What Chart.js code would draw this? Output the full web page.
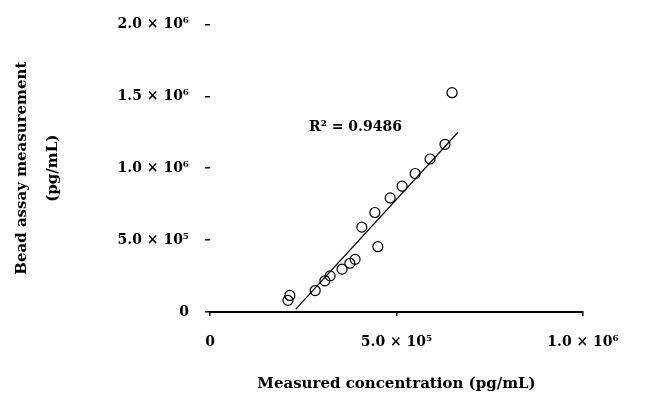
<!DOCTYPE html>
<html>
<head>
<meta charset="utf-8">
<script src="https://cdn.jsdelivr.net/npm/chart.js@4/dist/chart.umd.min.js"></script>
<style>
  html, body { margin: 0; padding: 0; background: #fff; }
  #wrap { width: 650px; height: 405px; }
</style>
</head>
<body>
<div id="wrap"><canvas id="c" width="650" height="405"></canvas></div>
<script>
// Measured pairs (x: reference method, y: bead assay), pg/mL
const measuredX = [209000, 214000, 282000, 308000, 322000, 354000, 375000, 389000, 450000,
                   407000, 442000, 483000, 515000, 550000, 590000, 630000, 649000];
const measuredY = [81000, 115000, 149000, 217000, 251000, 298000, 339000, 366000, 454000,
                   590000, 692000, 793000, 875000, 963000, 1064000, 1166000, 1525000];
// Regression line end points
const fitX = [230000, 665000];
const fitY = [20000, 1250000];
const rSquaredText = 'R\u00B2 = 0.9486';
const xTicks = [0, 500000, 1000000];
const yTicks = [0, 500000, 1000000, 1500000, 2000000];
const tickLabels = {
  0: '0',
  500000: '5.0 \u00D7 10\u2075',
  1000000: '1.0 \u00D7 10\u2076',
  1500000: '1.5 \u00D7 10\u2076',
  2000000: '2.0 \u00D7 10\u2076'
};
const xTitle = 'Measured concentration (pg/mL)';
const yTitle = ['Bead assay measurement', '(pg/mL)'];

const FONT = "'DejaVu Serif', 'Liberation Serif', serif";

const annotate = {
  id: 'annotate',
  afterDatasetsDraw(chart) {
    const { ctx, scales } = chart;
    ctx.save();
    ctx.font = `bold 14px ${FONT}`;
    ctx.fillStyle = '#000';
    ctx.textAlign = 'center';
    ctx.textBaseline = 'middle';
    ctx.fillText(rSquaredText, scales.x.getPixelForValue(390000), scales.y.getPixelForValue(1285000));
    ctx.restore();
  }
};

new Chart(document.getElementById('c'), {
  type: 'scatter',
  data: {
    datasets: [
      {
        label: 'Samples',
        data: measuredX.map((x, i) => ({ x, y: measuredY[i] })),
        pointStyle: 'circle',
        pointRadius: 5,
        pointBorderWidth: 1.2,
        borderColor: '#000',
        backgroundColor: 'rgba(255,255,255,0)'
      },
      {
        label: 'Linear fit',
        type: 'line',
        data: fitX.map((x, i) => ({ x, y: fitY[i] })),
        borderColor: '#000',
        borderWidth: 1.2,
        pointRadius: 0,
        fill: false
      }
    ]
  },
  options: {
    responsive: false,
    animation: false,
    layout: { padding: { left: 0, right: 67, top: 17, bottom: 8 } },
    plugins: { legend: { display: false }, tooltip: { enabled: false } },
    scales: {
      x: {
        type: 'linear',
        min: 0,
        max: 1000000,
        afterBuildTicks(s) { s.ticks = xTicks.map(v => ({ value: v })); },
        afterFit(s) { s.height = 85; },
        border: { display: true, color: '#000', width: 2 },
        grid: { display: true, drawOnChartArea: false, drawTicks: true, tickLength: 4, color: '#000', lineWidth: 1.5 },
        ticks: {
          color: '#000',
          padding: 18,
          maxRotation: 0,
          font: { family: FONT, size: 14, weight: 'bold' },
          callback: v => tickLabels[v]
        },
        title: {
          display: true,
          text: xTitle,
          color: '#000',
          padding: { top: 6 },
          font: { family: FONT, size: 15, weight: 'bold' }
        }
      },
      y: {
        type: 'linear',
        min: 0,
        max: 2000000,
        afterBuildTicks(s) { s.ticks = yTicks.map(v => ({ value: v })); },
        afterFit(s) { s.width = 210; },
        border: { display: false },
        grid: { display: true, drawOnChartArea: false, drawTicks: true, tickLength: 5, color: '#000', lineWidth: 1.5 },
        ticks: {
          color: '#000',
          padding: 16,
          font: { family: FONT, size: 14, weight: 'bold' },
          callback: v => tickLabels[v]
        },
        title: {
          display: true,
          text: yTitle,
          color: '#000',
          padding: { top: 6, bottom: 0 },
          font: { family: FONT, size: 15, weight: 'bold', lineHeight: 2.1 }
        }
      }
    }
  },
  plugins: [annotate]
});
</script>
</body>
</html>
